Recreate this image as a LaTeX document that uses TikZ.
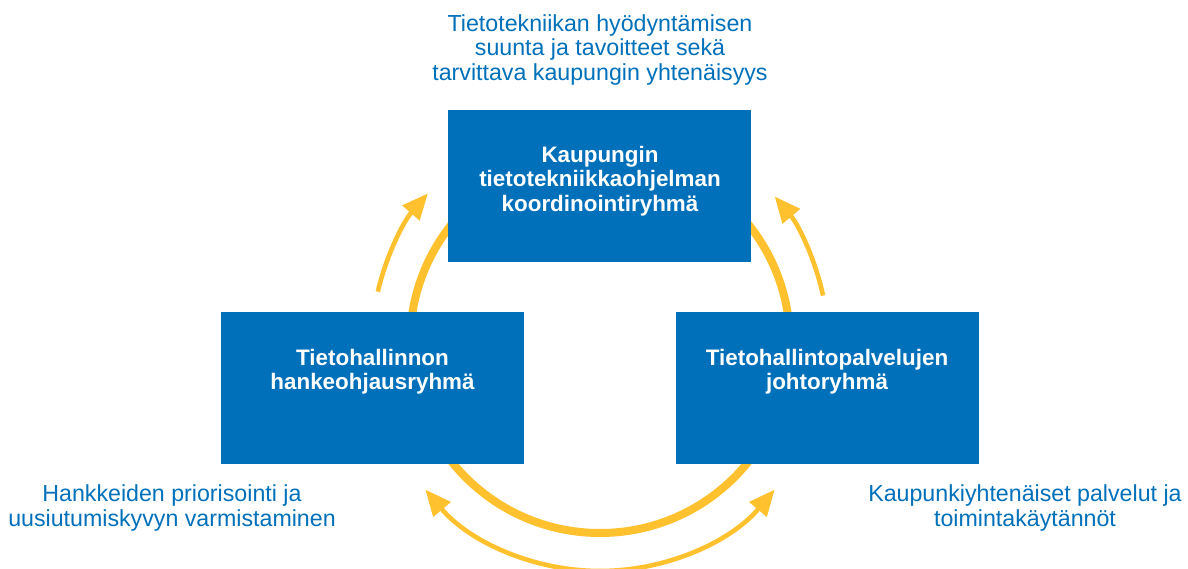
\documentclass[tikz,border=0pt]{standalone}
\usepackage{fontspec}
\setmainfont{Liberation Sans}
\usetikzlibrary{arrows.meta}
\definecolor{kblue}{HTML}{0070BA}
\definecolor{kyellow}{HTML}{FFC12E}

\begin{document}
\begin{tikzpicture}[x=0.5pt,y=0.5pt,
  group/.style={fill=kblue, minimum width=151.5pt, minimum height=76pt, inner sep=0pt},
  grouptext/.style={text=white, font=\bfseries\fontsize{11.2}{12.2}\selectfont, align=center},
  note/.style={text=kblue, font=\fontsize{11.6}{12.2}\selectfont, align=center},
  ring/.style={draw=kyellow, line width=4pt},
  flow/.style={draw=kyellow, line width=2.3pt, -{Triangle[length=13pt,width=11pt]}}]
  \useasboundingbox (0,0) rectangle (1188,568);
  \coordinate (hub) at (600,225);
  \draw[ring] (hub) circle[radius=190];

  \node[group] (kko) at (599.5,382) {};
  \node[group] (hor) at (372.5,180) {};
  \node[group] (tpj) at (827,180) {};

  \node[grouptext] (kkot) at (600,387) {Kaupungin\\tietotekniikkaohjelman\\koordinointiryhmä};
  \node[grouptext] (hort) at (372.5,196) {Tietohallinnon\\hankeohjausryhmä};
  \node[grouptext] (tpjt) at (827,196) {Tietohallintopalvelujen\\johtoryhmä};

  \node[note] (suunta) at (600,518) {Tietotekniikan hyödyntämisen\\suunta ja tavoitteet sekä\\tarvittava kaupungin yhtenäisyys};
  \node[note] (hanke) at (172,60) {Hankkeiden priorisointi ja\\uusiutumiskyvyn varmistaminen};
  \node[note] (palv) at (1025,60) {Kaupunkiyhtenäiset palvelut ja\\toimintakäytännöt};

  \draw[flow] ([shift={(167:228)}]hub) arc[start angle=167, end angle=139, radius=228];
  \draw[flow] ([shift={(12:228)}]hub) arc[start angle=12, end angle=40, radius=228];
  \draw[flow] ([shift={(270:228)}]hub) arc[start angle=270, end angle=220, radius=228];
  \draw[flow] ([shift={(270:228)}]hub) arc[start angle=270, end angle=320, radius=228];
\end{tikzpicture}
\end{document}
